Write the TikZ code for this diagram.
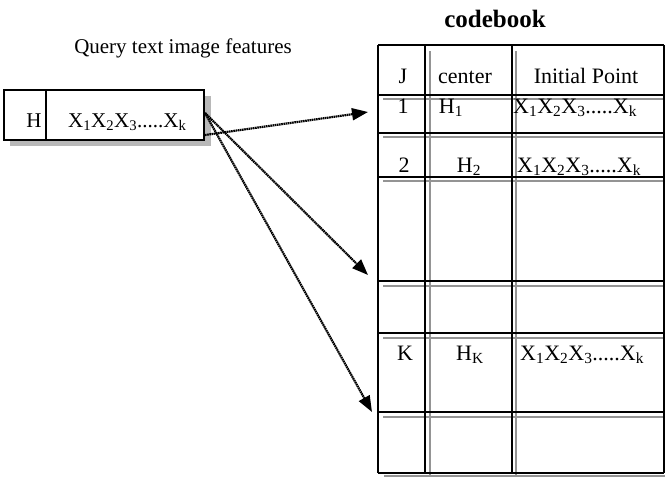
\documentclass[tikz,border=0pt]{standalone}
\usepackage{fontspec}
\setmainfont{Liberation Serif}
\usetikzlibrary{arrows.meta}
% feature sequence X1 X2 X3 ..... Xk
\newcommand\xseq{X\textsubscript{1}X\textsubscript{2}X\textsubscript{3}.....X\textsubscript{k}}
\begin{document}
\begin{tikzpicture}[x=1pt,y=-1pt,
  txt/.style={inner sep=0pt, anchor=base, font=\fontsize{21}{25}\selectfont},
  cell/.style={inner sep=0pt, anchor=base, font=\fontsize{22}{26}\selectfont},
  cellL/.style={cell, anchor=base west},
  rule/.style={line width=1.6pt, black},
  inner/.style={line width=1.4pt, black!42},
  link/.style={line width=2.2pt, dash pattern=on 1.6pt off 0.6pt,
    -{Triangle[length=16pt,width=12pt]}}]
\useasboundingbox (0,0) rectangle (665,477);

% ---- query feature box with drop shadow
\fill[black!28] (10,96) rectangle (211,146);
\node[draw, line width=1.5pt, fill=white, inner sep=0pt,
  minimum width=200pt, minimum height=50pt] (qbox) at (104,115) {};
\draw[line width=1.5pt] (46,90) -- (46,140);
\node[txt] (qh) at (34,127) {H};
\node[txt, anchor=base west] (qx) at (68,127) {\xseq};
\node[txt] (qlabel) at (183,53) {Query text image features};

% ---- codebook table
\node[inner sep=0pt, anchor=base, font=\fontsize{25}{30}\selectfont\bfseries]
  (cbtitle) at (495,27) {codebook};

% inner (grey) rules
\foreach \yy in {99,137,181,286,338,417}
  \draw[inner] (383,\yy) -- (665,\yy);
\draw[inner] (384,476) -- (665,476);
\foreach \xx in {430,516}
  \draw[inner] (\xx,51) -- (\xx,476);

% outer (black) rules
\foreach \yy in {45,95,133,177,281,333,412,473}
  \draw[rule] (378,\yy) -- (664,\yy);
\foreach \xx in {378,425,512,664}
  \draw[rule] (\xx,45) -- (\xx,473);

% header
\node[cell] (hj) at (403,83) {J};
\node[cell] (hc) at (465,83) {center};
\node[cell] (hi) at (586,83) {Initial Point};
% row 1
\node[cell] (r1j) at (403,113) {1};
\node[cell] (r1c) at (451,113) {H\textsubscript{1}};
\node[cellL] (r1x) at (513,113) {\xseq};
% row 2
\node[cell] (r2j) at (404,172) {2};
\node[cell] (r2c) at (469,172) {H\textsubscript{2}};
\node[cellL] (r2x) at (517,172) {\xseq};
% row K
\node[cell] (rkj) at (405,360) {K};
\node[cell] (rkc) at (470,360) {H\textsubscript{K}};
\node[cellL] (rkx) at (520,360) {\xseq};

% ---- links from the query to codebook entries
\coordinate (s1) at (205,113);
\coordinate (s2) at (205,135);
\coordinate (t1) at (368,112);
\coordinate (t2) at (368,275);
\coordinate (t3) at (372,412);
\draw[link] (s2) -- (t1);
\draw[link] (s1) -- (t2);
\draw[link] (s1) -- (t3);
\end{tikzpicture}
\end{document}
